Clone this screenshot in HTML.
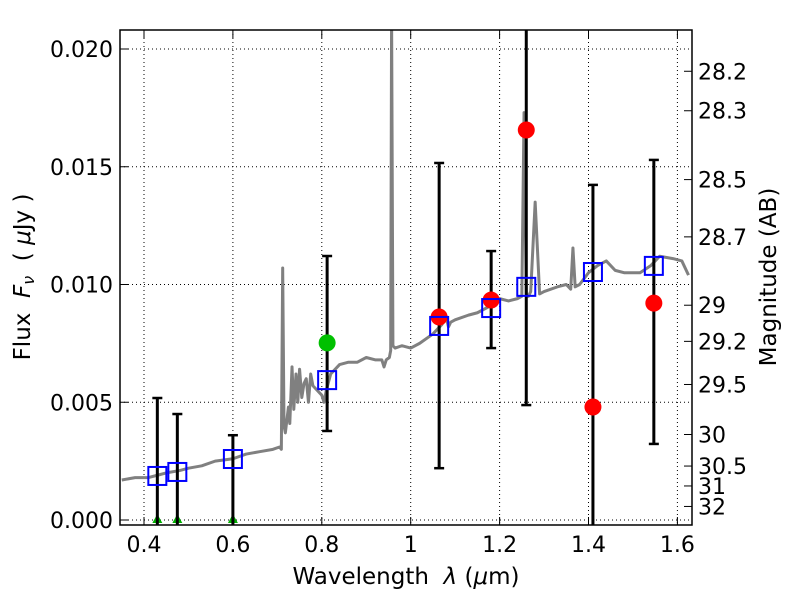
<!DOCTYPE html>
<html><head><meta charset="utf-8"><style>
body{margin:0;background:#fff}
svg{display:block;font-family:"DejaVu Sans","Liberation Sans",sans-serif}
</style></head><body>
<svg id="chart" width="800" height="600" viewBox="0 0 800 600" xmlns="http://www.w3.org/2000/svg"></svg>
<script>
const xTicks=[0.4,0.6,0.8,1,1.2,1.4,1.6];
const xTickLabels=["0.4","0.6","0.8","1","1.2","1.4","1.6"];
const yTicks=[0,0.005,0.01,0.015,0.02];
const yTickLabels=["0.000","0.005","0.010","0.015","0.020"];
const magTicks=[28.2,28.3,28.5,28.7,29,29.2,29.5,30,30.5,31,32];
const magLabels=["28.2","28.3","28.5","28.7","29","29.2","29.5","30","30.5","31","32"];
const specWave=[0.35,0.38,0.41,0.43,0.45,0.48,0.5,0.53,0.56,0.6,0.63,0.66,0.69,0.705,0.709,0.712,0.715,0.718,0.725,0.728,0.733,0.737,0.742,0.746,0.75,0.755,0.76,0.765,0.77,0.775,0.78,0.79,0.8,0.805,0.81,0.82,0.84,0.86,0.88,0.9,0.92,0.935,0.94,0.945,0.952,0.955,0.957,0.96,0.965,0.98,1.0,1.02,1.05,1.07,1.08,1.085,1.09,1.1,1.13,1.15,1.18,1.2,1.22,1.24,1.25,1.255,1.26,1.265,1.27,1.28,1.29,1.3,1.33,1.35,1.36,1.365,1.37,1.38,1.4,1.42,1.44,1.46,1.48,1.5,1.516,1.54,1.56,1.59,1.61,1.625];
const specFlux=[0.0017,0.0018,0.0018,0.0019,0.0020,0.0021,0.0022,0.0023,0.0025,0.0026,0.0028,0.0029,0.0030,0.0031,0.0030,0.0107,0.0040,0.0037,0.0048,0.0041,0.0065,0.0047,0.0062,0.0050,0.0064,0.0052,0.0058,0.0060,0.0050,0.0062,0.0057,0.0055,0.0053,0.0050,0.0055,0.0062,0.0066,0.0067,0.0067,0.0069,0.0068,0.0068,0.0065,0.0068,0.0069,0.0072,0.0215,0.0074,0.0073,0.0074,0.0073,0.0075,0.0079,0.0083,0.0086,0.0082,0.0084,0.0085,0.0087,0.0088,0.0091,0.0094,0.0093,0.0094,0.0095,0.0173,0.0096,0.0095,0.0097,0.0135,0.0096,0.0097,0.0099,0.0100,0.0098,0.01155,0.0099,0.0100,0.0105,0.0108,0.0110,0.0106,0.0105,0.0105,0.0105,0.0108,0.0112,0.0111,0.0110,0.0104];
const modelWave=[0.43,0.475,0.60,0.812,1.064,1.181,1.26,1.41,1.547];
const modelFlux=[0.00187,0.00204,0.00259,0.00594,0.00824,0.0090,0.0099,0.01053,0.01079];
const errWave=[0.43,0.475,0.60,0.812,1.064,1.181,1.26,1.41,1.547];
const errLow=[-0.001,-0.001,-0.001,0.00378,0.0022,0.0073,0.00488,-0.001,0.00323];
const errHigh=[0.00518,0.0045,0.0036,0.01121,0.01516,0.01142,0.03,0.01423,0.01529];
const capLow=[false,false,false,true,true,true,true,false,true];
const capHigh=[true,true,true,true,true,true,false,true,true];
const redWave=[1.064,1.181,1.26,1.41,1.547];
const redFlux=[0.00862,0.00934,0.01656,0.0048,0.00921];
const greenWave=[0.812];
const greenFlux=[0.00752];
const limWave=[0.43,0.475,0.60];

const L=120,R=692,T=30,B=525;
const X=w=>144+(w-0.4)*444.5;
const Y=v=>520-v/0.005*117.75;
const magToFlux=m=>Math.pow(10,(23.9-m)/2.5);
const svg=document.getElementById('chart');
const NS='http://www.w3.org/2000/svg';
function mk(t,a,p){const e=document.createElementNS(NS,t);for(const k in a)e.setAttribute(k,a[k]);(p||svg).appendChild(e);return e;}

const defs=mk('defs',{});const cp=mk('clipPath',{id:'cp'},defs);mk('rect',{x:L,y:T,width:R-L,height:B-T},cp);

const grid=mk('g',{'stroke':'#000','stroke-width':1,'stroke-dasharray':'1,3'});


xTicks.forEach(t=>mk('line',{x1:X(t),x2:X(t),y1:T,y2:B},grid));
yTicks.forEach(t=>mk('line',{x1:L,x2:R,y1:Y(t),y2:Y(t)},grid));

const plot=mk('g',{'clip-path':'url(#cp)'});
const spec=mk('polyline',{points:specWave.map((w,i)=>X(w)+','+Y(specFlux[i])).join(' '),fill:'none',stroke:'#808080','stroke-width':3,'stroke-linejoin':'round'},plot);



limWave.forEach((w,i)=>{const x=X(w),y=Y(0);
 const tr=mk('polygon',{points:`${x-5},${y+3} ${x+5},${y+3} ${x},${y-6}`,fill:'#00b000'},plot);
 
 });

errWave.forEach((w,i)=>{const x=X(w);const g=mk('g',{stroke:'#000','stroke-width':3},plot);
 
 
 mk('line',{x1:x,x2:x,y1:Y(errLow[i]),y2:Y(errHigh[i])},g);
 if(capHigh[i])mk('line',{x1:x-5,x2:x+5,y1:Y(errHigh[i]),y2:Y(errHigh[i]),'stroke-width':2.5},g);
 if(capLow[i])mk('line',{x1:x-5,x2:x+5,y1:Y(errLow[i]),y2:Y(errLow[i]),'stroke-width':2.5},g);});

greenWave.forEach((w,i)=>{const c=mk('circle',{cx:X(w),cy:Y(greenFlux[i]),r:8.5,fill:'#00c000'},plot);
 
 });
redWave.forEach((w,i)=>{const c=mk('circle',{cx:X(w),cy:Y(redFlux[i]),r:8.5,fill:'#ff0000'},plot);
 
 });
modelWave.forEach((w,i)=>{const r=mk('rect',{x:X(w)-9,y:Y(modelFlux[i])-9,width:18,height:18,fill:'none',stroke:'#0000ff','stroke-width':2},plot);
 
 });

const frame=mk('rect',{x:L,y:T,width:R-L,height:B-T,fill:'none',stroke:'#000','stroke-width':1.5});



const FS=22;
const tk=mk('g',{stroke:'#000','stroke-width':1});
xTicks.forEach((t,i)=>{mk('line',{x1:X(t),x2:X(t),y1:B,y2:B-8},tk);mk('line',{x1:X(t),x2:X(t),y1:T,y2:T+8},tk);
 const tx=mk('text',{x:X(t),y:B+27,'text-anchor':'middle','font-size':FS,stroke:'none',fill:'#000'});tx.textContent=xTickLabels[i];
 
 });
yTicks.forEach((t,i)=>{mk('line',{x1:L,x2:L+8,y1:Y(t),y2:Y(t)},tk);
 const tx=mk('text',{x:L-7,y:Y(t)+8,'text-anchor':'end','font-size':FS,stroke:'none',fill:'#000'});tx.textContent=yTickLabels[i];
 
 });
magTicks.forEach((m,i)=>{const y=Y(magToFlux(m));mk('line',{x1:R,x2:R-8,y1:y,y2:y},tk);
 const tx=mk('text',{x:R+6,y:y+8,'font-size':FS,stroke:'none',fill:'#000'});tx.textContent=magLabels[i];
 
 });

const xl=mk('text',{x:406,y:584,'text-anchor':'middle','font-size':23});xl.innerHTML='Wavelength&#160; <tspan font-style="italic">λ</tspan> (<tspan font-style="italic">μ</tspan>m)';


const yl=mk('text',{x:0,y:0,'text-anchor':'middle','font-size':23,transform:'translate(30,277) rotate(-90)'});yl.innerHTML='Flux&#160; <tspan font-style="italic">F</tspan><tspan font-style="italic" font-size="16" dy="4">ν</tspan><tspan dy="-4">&#160;&#160;( </tspan><tspan font-style="italic">μ</tspan>Jy )';


const rl=mk('text',{x:0,y:0,'text-anchor':'middle','font-size':23,transform:'translate(776,277) rotate(-90)'});rl.textContent='Magnitude (AB)';


</script>
</body></html>
